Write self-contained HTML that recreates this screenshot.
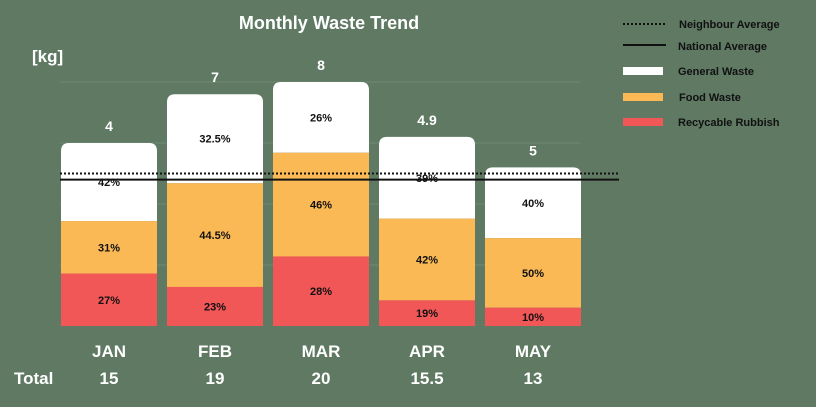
<!DOCTYPE html>
<html><head><meta charset="utf-8"><style>
body{margin:0;background:#5f7963;}
svg text{font-family:"Liberation Sans",sans-serif;font-weight:bold;}
</style></head><body>
<svg width="816" height="402" viewBox="0 0 816 402">
<rect width="816" height="402" fill="#5f7963"/>
<text x="329" y="29" font-size="18" fill="#fff" text-anchor="middle">Monthly Waste Trend</text>
<text x="32" y="62" font-size="17" fill="#fff">[kg]</text>
<g id="grid"></g><g id="bars"></g><g id="lines"></g><g id="labels"></g>
<g font-size="11">
<line x1="623" y1="24" x2="666" y2="24" stroke="#111" stroke-width="2" stroke-dasharray="2,2"/>
<text x="679" y="28" fill="#111">Neighbour Average</text>
<line x1="623" y1="45" x2="666" y2="45" stroke="#111" stroke-width="2"/>
<text x="678" y="50" fill="#111">National Average</text>
<rect x="623" y="67" width="40" height="8" fill="#fff"/>
<text x="678" y="75" fill="#111">General Waste</text>
<rect x="623" y="93" width="40" height="8" fill="#fbb955"/>
<text x="679" y="101" fill="#111">Food Waste</text>
<rect x="623" y="118" width="40" height="8" fill="#f25757"/>
<text x="678" y="126" fill="#111">Recycable Rubbish</text>
</g>
<text x="14" y="384" font-size="17" fill="#fff">Total</text>
</svg>
<script>
const months=["JAN","FEB","MAR","APR","MAY"];
const totals=[15,19,20,15.5,13];
const topLabels=["4","7","8","4.9","5"];
const recycleKg=[4.3,3.2,5.7,2.1,1.5];
const foodKg=[4.3,8.5,8.5,6.7,5.7];
const recyclePct=[27,23,28,19,10];
const foodPct=[31,44.5,46,42,50];
const generalPct=[42,32.5,26,39,40];
const gridTicks=[5,10,15,20];
const neighbourAvg=12.5;
const nationalAvg=12;
const NS="http://www.w3.org/2000/svg";
const base=326,scale=12.2,x0=61,step=106,bw=96;
const y=v=>base-v*scale;
const xb=i=>x0+i*step;
function mk(tag,attrs,parent,txt){const e=document.createElementNS(NS,tag);for(const k in attrs)e.setAttribute(k,attrs[k]);if(txt!==undefined)e.textContent=txt;document.getElementById(parent).appendChild(e);return e;}
gridTicks.forEach(t=>{const l=mk("line",{x1:60,x2:580,y1:y(t),y2:y(t),stroke:"#6f8a72","stroke-width":1},"grid");

});
const fmt=p=>p+"%";
months.forEach((m,i)=>{
  const x=xb(i),T=totals[i];
  const r=recycleKg[i],f=foodKg[i];
  const top=y(T);
  const g=mk("path",{d:`M${x},${y(r+f)}V${top+8}Q${x},${top} ${x+8},${top}H${x+bw-8}Q${x+bw},${top} ${x+bw},${top+8}V${y(r+f)}Z`,fill:"#fff"},"bars");
  
  
  const fr=mk("rect",{x:x,y:y(r+f),width:bw,height:f*scale,fill:"#fbb955"},"bars");
  
  
  const rr=mk("rect",{x:x,y:y(r),width:bw,height:r*scale,fill:"#f25757"},"bars");
  
  
  const cx=x+bw/2;
  const segs=[[r/2,recyclePct[i],"recyclable"],[r+f/2,foodPct[i],"food"],[r+f+(T-r-f)/2,generalPct[i],"general"]];
  segs.forEach(s=>{const t=mk("text",{x:cx,y:y(s[0])+4,"font-size":11,fill:"#111","text-anchor":"middle"},"labels",fmt(s[1]));
    
    });
  const tl=mk("text",{x:cx,y:top-12,"font-size":14,fill:"#fff","text-anchor":"middle"},"labels",topLabels[i]);
  
  
  const ml=mk("text",{x:cx,y:357,"font-size":17,fill:"#fff","text-anchor":"middle"},"labels",m);
  
  
  const tt=mk("text",{x:cx,y:384,"font-size":17,fill:"#fff","text-anchor":"middle"},"labels",String(T));
  
  
});
const nl=mk("line",{x1:60,x2:619,y1:y(neighbourAvg),y2:y(neighbourAvg),stroke:"#111","stroke-width":2,"stroke-dasharray":"2,2"},"lines");


const na=mk("line",{x1:60,x2:619,y1:y(nationalAvg),y2:y(nationalAvg),stroke:"#111","stroke-width":2},"lines");


</script>
</body></html>
